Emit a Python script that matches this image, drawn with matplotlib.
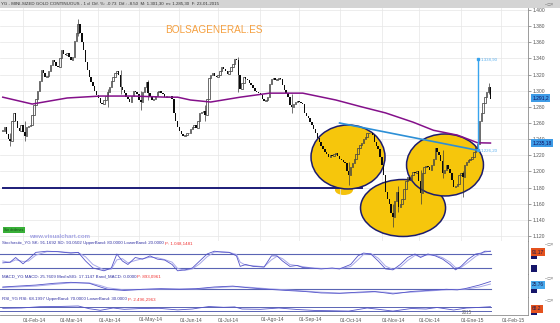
import numpy as np
import pandas as pd
import matplotlib
matplotlib.use("Agg")
import matplotlib.pyplot as plt
import matplotlib.transforms as mtransforms
from matplotlib.patches import Ellipse, Rectangle

plt.rcParams['font.family'] = ['Liberation Sans', 'DejaVu Sans']

# --- data --------------------------------------------------------------
start_day = "2014-01-17"
closes = [
    1250, 1255, 1246, 1240, 1238, 1262, 1272, 1262, 1254, 1250,
    1258, 1249, 1244, 1255, 1256, 1258, 1270, 1282, 1290, 1300,
    1312, 1326, 1322, 1317, 1318, 1324, 1332, 1338, 1336, 1331,
    1329, 1340, 1350, 1346, 1344, 1347, 1342, 1338, 1342, 1362,
    1372, 1383, 1371, 1360, 1350, 1335, 1326, 1317, 1311, 1306,
    1300, 1295, 1291, 1285, 1284, 1289, 1293, 1299, 1305, 1312,
    1317, 1322, 1325, 1320, 1305, 1301, 1297, 1292, 1290, 1286,
    1294, 1300, 1298, 1296, 1288, 1286, 1298, 1304, 1311, 1297,
    1292, 1288, 1290, 1293, 1299, 1300, 1297, 1296, 1292, 1293,
    1294, 1293, 1290, 1272, 1262, 1255, 1250, 1246, 1244, 1245,
    1247, 1248, 1252, 1255, 1258, 1254, 1262, 1272, 1274, 1275,
    1270, 1290, 1316, 1320, 1322, 1318, 1317, 1320, 1324, 1329,
    1327, 1325, 1321, 1324, 1329, 1333, 1339, 1338, 1320, 1302,
    1310, 1317, 1315, 1313, 1310, 1307, 1303, 1300, 1298, 1297,
    1295, 1290, 1287, 1289, 1292, 1308, 1314, 1316, 1313, 1314,
    1316, 1315, 1307, 1301, 1297, 1292, 1282, 1280, 1284, 1286,
    1287, 1286, 1285, 1283, 1273, 1269, 1266, 1261, 1257, 1253,
    1248, 1241, 1236, 1232, 1228, 1224, 1221, 1218, 1220, 1219,
    1222, 1223, 1219, 1216, 1214, 1212, 1210, 1200, 1196, 1205,
    1210, 1216, 1222, 1229, 1233, 1235, 1240, 1243, 1247, 1248,
    1247, 1245, 1237, 1232, 1228, 1218, 1208, 1196, 1175, 1166,
    1160, 1148, 1143, 1163, 1175, 1156, 1160, 1166, 1178, 1188,
    1193, 1190, 1195, 1199, 1198, 1200, 1188, 1173, 1198, 1206,
    1207, 1205, 1202, 1208, 1215, 1229, 1224, 1220, 1213, 1198,
    1202, 1208, 1203, 1198, 1190, 1181, 1182, 1184, 1195, 1198,
    1193, 1208, 1212, 1214, 1216, 1218, 1224, 1230, 1234, 1262,
    1272, 1285, 1292, 1298, 1305, 1290,
]

# the longer wicks that stand out (bar index, low, high)
wick_bars = [4, 12, 41, 57, 64, 75, 79, 110, 128, 157, 188, 212, 215, 227, 239, 250, 264]
wick_lows = [1232, 1238, 1368, 1280, 1296, 1276, 1288, 1262, 1298, 1272, 1183, 1131, 1150, 1160, 1192, 1168, 1296]
wick_highs = [1248, 1262, 1389, 1302, 1326, 1300, 1313, 1282, 1342, 1296, 1212, 1160, 1182, 1202, 1226, 1200, 1309]

# purple moving average (bar index, value)
ma_bars = [0, 16, 35, 53, 71, 89, 95, 102, 113, 129, 145, 156, 163, 181, 195,
           208, 223, 234, 247, 254, 258, 265]
ma_vals = [1292, 1283.5, 1291, 1293.4, 1293.4, 1292, 1292, 1288.5, 1286, 1292,
           1297, 1297, 1297, 1288.5, 1280, 1272.5, 1261, 1251, 1245, 1239,
           1235.5, 1235.18]

support_level = 1179.4
support_bars = [0, 195]
trend_bars = [183, 258]
trend_vals = [1260.0, 1226.2]
target_bar = 258
target_vals = [1226.2, 1338.9]
last_price = 1291.2

# yellow zones: centre bar, centre price, width (bars), height (price)
zones = [(187.6, 1217.9, 40.2, 79.3),
         (217.5, 1154.7, 46.2, 70.6),
         (240.3, 1208.0, 41.8, 76.8)]
zone_tail = (185.4, 1177.0, 9.8, 12.4)

stoch_bars = [0, 4, 7, 11, 14, 18, 24, 30, 37, 41, 45, 49, 55, 59, 62, 65, 68, 72,
              76, 80, 84, 88, 92, 95, 99, 103, 107, 111, 115, 119, 123, 127, 129,
              132, 136, 142, 146, 149, 152, 156, 160, 163, 167, 173, 179, 183, 189,
              193, 196, 200, 204, 208, 212, 216, 220, 224, 227, 231, 235, 239, 243,
              246, 249, 253, 257, 260, 262, 265]
stoch_k = [42, 45, 65, 38, 58, 87, 92, 90, 84, 87, 50, 20, 8, 20, 80, 50, 35, 65,
           58, 72, 58, 54, 35, 8, 12, 20, 50, 80, 92, 88, 87, 72, 27,
           35, 27, 24, 72, 72, 50, 27, 31, 22, 20, 16, 20, 16, 35,
           72, 84, 80, 50, 16, 12, 35, 65, 80, 65, 80, 72, 58, 35,
           12, 27, 58, 80, 84, 92, 91]
stoch_d = [50, 44, 55, 48, 50, 75, 90, 90, 86, 86, 68, 35, 12, 15, 55, 60, 42, 52,
           60, 66, 64, 56, 45, 18, 10, 16, 38, 68, 88, 90, 87, 78, 45,
           32, 30, 25, 55, 70, 60, 35, 30, 26, 21, 18, 18, 17, 26,
           55, 78, 82, 62, 28, 14, 24, 52, 74, 70, 76, 75, 64, 45,
           22, 22, 45, 70, 82, 88, 93]

macd_bars = [0, 18, 28, 37, 47, 53, 57, 66, 76, 86, 96, 105, 115, 125, 134, 144,
             154, 164, 173, 183, 193, 202, 208, 212, 222, 231, 241, 247, 251, 259, 265]
macd_line = [7, 13.6, 19.7, 23, 19.7, 7, -1, -5, -1, 1, -1, 1, 7, 10, 4, -1,
             -5, -8.6, -13.6, -15, -11, -8.6, -13.6, -17, -8.6, -5, -1, -3, 1, 13.6, 25.76]
macd_signal = [5, 10, 16, 21, 21, 12, 4, -3, -2, 0, 0, 0, 4, 8, 6, 1,
               -3, -7, -11, -14, -13, -10, -11, -14, -11, -7, -3, -2, -1, 7, 17.11]

rsi_bars = [0, 10, 20, 30, 41, 47, 53, 60, 66, 75, 85, 95, 103, 112, 120, 126, 130,
            140, 150, 160, 170, 178, 188, 198, 205, 212, 222, 230, 236, 245, 252, 258, 265]
rsi_vals = [52, 55, 68, 70, 75, 48, 32, 55, 42, 50, 52, 36, 45, 70, 62, 66, 45,
            42, 55, 40, 30, 28, 24, 55, 40, 24, 50, 45, 60, 35, 55, 60, 68]

month_starts = ["2014-02-03", "2014-03-03", "2014-04-01", "2014-05-01", "2014-06-02",
                "2014-07-01", "2014-08-01", "2014-09-01", "2014-10-01", "2014-11-03",
                "2014-12-01", "2015-01-01", "2015-02-02"]
month_labels = ["01-Feb-14", "01-Mar-14", "01-Abr-14", "01-May-14", "01-Jun-14",
                "01-Jul-14", "01-Ago-14", "01-Sep-14", "01-Oct-14", "01-Nov-14",
                "01-Dic-14", "01-Ene-15", "01-Feb-15"]
price_ticks = list(range(1120, 1401, 20))


def es_num(v, dec):
    s = f"{v:,.{dec}f}"
    return s.replace(",", "#").replace(".", ",").replace("#", ".")


# --- figure ---------------------------------------------------------------
W, H = 560, 323
fig = plt.figure(figsize=(W / 100, H / 100), dpi=100)
fig.patch.set_facecolor('white')


def panel(top, bottom):
    return fig.add_axes([0, 1 - bottom / H, 528 / W, (bottom - top) / H])


month_pos = np.busday_count(start_day, month_starts)
x = np.arange(len(closes))
xlim = (-1.5, 285.4)

ax = panel(8, 241)
ax_st = panel(241, 274)
ax_md = panel(274, 297)
ax_rs = panel(297, 315)

for a in (ax, ax_st, ax_md, ax_rs):
    a.set_xlim(*xlim)
    a.set_facecolor('white')
    for s in ('top', 'left'):
        a.spines[s].set_visible(False)
    for s in ('bottom', 'right'):
        a.spines[s].set_color('#8c8c8c')
        a.spines[s].set_linewidth(0.6)
    a.tick_params(axis='x', bottom=False, labelbottom=False)
    a.tick_params(axis='y', left=False, labelleft=False)

# main price panel
ax.set_ylim(1113.8, 1402.5)
ax.set_xticks(month_pos)
ax.set_yticks(price_ticks)
ax.grid(True, color='#e6e6e6', linewidth=0.5, zorder=0)
ax.yaxis.tick_right()
ax.set_yticklabels([es_num(v, 0) for v in price_ticks])
ax.tick_params(axis='y', right=True, labelright=True, labelsize=3.6,
               colors='#555555', length=2, width=0.4, pad=1.5)

ax.plot(support_bars, [support_level] * 2, color='#1c1c78', lw=1.4, zorder=2)
ax.add_patch(Ellipse(zone_tail[:2], zone_tail[2], zone_tail[3],
                     facecolor='#f4c20d', edgecolor='none', zorder=1.5))
for cx, cy, w, h in zones:
    ax.add_patch(Ellipse((cx, cy), w, h, facecolor='#f6c60c',
                         edgecolor='#1c1c6e', lw=1.1, zorder=2.5))

c = np.array(closes, float)
o = np.r_[c[0], c[:-1]]
up = c >= o
lo = np.minimum(o, c)
hgt = np.maximum(np.abs(c - o), 0.8)
ax.vlines(wick_bars, wick_lows, wick_highs, color='#3a3a3a', lw=0.5, zorder=3.5)
ax.bar(x[up], hgt[up], bottom=lo[up], width=0.78, facecolor='none',
       edgecolor='#444444', linewidth=0.55, zorder=4)
ax.bar(x[~up], hgt[~up], bottom=lo[~up], width=0.78, color='#0c0c0c',
       linewidth=0, zorder=4)

ax.plot(ma_bars, ma_vals, color='#84108a', lw=1.1, zorder=5)
ax.plot(trend_bars, trend_vals, color='#2c8fd6', lw=1.2, zorder=6)
ax.plot([target_bar] * 2, target_vals, color='#38a4ee', lw=1.0, zorder=6)
ax.plot([target_bar] * 2, target_vals, 's', color='#38a4ee', ms=1.6, zorder=6)
for v in target_vals:
    ax.text(target_bar + 1.5, v, es_num(v, 2), fontsize=3.2, color='#5ab0ee',
            va='center', zorder=7)

ytrans = mtransforms.blended_transform_factory(ax.transAxes, ax.transData)
for val, txt in ((last_price, es_num(last_price, 1)), (ma_vals[-1], es_num(ma_vals[-1], 2))):
    ax.text(1.008, val, txt, transform=ytrans, fontsize=3.6, color='#101060',
            va='center', ha='left', zorder=8,
            bbox=dict(boxstyle='square,pad=0.25', fc='#3d9be6', ec='none'))

ax.text(165 / 528, 1 - (30 - 8) / 233, "BOLSAGENERAL.ES", transform=ax.transAxes,
        fontsize=7.2, color='#f5a040', va='center', ha='left')
ax.text(29 / 528, 1 - (236 - 8) / 233, "www.visualchart.com", transform=ax.transAxes,
        fontsize=4.3, color='#a4a4e4', fontweight='bold', va='center', ha='left')
ax.text(4 / 528, 1 - (230 - 8) / 233, "Sin órdenes", transform=ax.transAxes,
        fontsize=2.6, color='#1a4a1a', va='center', ha='left',
        bbox=dict(boxstyle='square,pad=0.35', fc='#38b038', ec='none'))

# stochastic
ax_st.set_ylim(-5.7, 135.7)
ax_st.plot([xlim[0], x[-1] + 0.5], [80, 80], color='#5a64b4', lw=0.8)
ax_st.plot([xlim[0], x[-1] + 0.5], [20, 20], color='#5a64b4', lw=0.8)
ax_st.plot(stoch_bars, stoch_d, color='#a8a8ea', lw=0.7)
ax_st.plot(stoch_bars, stoch_k, color='#5454c8', lw=0.6)

# macd
ax_md.set_ylim(-27.6, 51.7)
ax_md.plot([xlim[0], x[-1] + 0.5], [0, 0], color='#5a64b4', lw=0.8)
ax_md.plot(macd_bars, macd_signal, color='#a8a8ea', lw=0.7)
ax_md.plot(macd_bars, macd_line, color='#5454c8', lw=0.6)

# rsi
ax_rs.set_ylim(-15, 165)
ax_rs.plot([xlim[0], x[-1] + 0.5], [70, 70], color='#5a64b4', lw=0.7)
ax_rs.plot([xlim[0], x[-1] + 0.5], [30, 30], color='#5a64b4', lw=0.7)
ax_rs.plot(rsi_bars, rsi_vals, color='#5454c8', lw=0.6)
year_pos = month_pos[month_labels.index("01-Ene-15")]
ax_rs.text(year_pos + 0.5, -12, "2015", fontsize=3.3, color='#666666', va='bottom')
ax_rs.set_xticks(month_pos)
ax_rs.set_xticklabels(month_labels)
ax_rs.tick_params(axis='x', labelbottom=True, labelsize=3.6, colors='#555555',
                  length=0, pad=1.8)
for lab in ax_rs.get_xticklabels():
    lab.set_ha('left')

# panel headers
headers = [
    (ax_st, "Stochastic_YG SK: 91.1692 SD: 93.0502 UpperBand: 80.0000 LowerBand: 20.0000 ",
     "P: 1.048,1481"),
    (ax_md, "MACD_YG MACD: 25.7609 MediaSIG: 17.1147 Band_MACD: 0.0000 ", "P: 893,0961"),
    (ax_rs, "RSI_YG RSI: 68.1997 UpperBand: 70.0000 LowerBand: 30.0000 ", "P: 2.496,2963"),
]
for a, txt, red in headers:
    t = a.text(0.003, 0.985, txt, transform=a.transAxes, fontsize=3.2,
               color='#3434a4', va='top', ha='left')
    a.annotate(red, xy=(1, 0), xycoords=t, fontsize=3.2, color='#f03030',
               va='bottom', ha='left')

# title strip
fig.add_artist(Rectangle((0, 1 - 8 / H), 1, 8 / H, transform=fig.transFigure,
                         facecolor='#d4d4d4', edgecolor='none'))
t = fig.text(1 / W, 1 - 4 / H,
             "YG - MINI-SIZED GOLD CONTINUOUS - 1 d  Dif. %: -0.73  Dif.: -8.50  "
             "M: 1.301,30  m: 1.285,30  F: 23-01-2015 ",
             fontsize=3.2, color='#333333', va='center', ha='left')
ax.annotate("P: 1.290,50", xy=(1, 0), xycoords=t, fontsize=3.2, color='#f03030',
            va='bottom', ha='left', annotation_clip=False)


# right-hand value boxes and window icons
def fx(px):
    return px / W


def fy(py):
    return 1 - py / H


for py in (4, 245, 278, 300):
    fig.text(fx(545), fy(py), "–□×", fontsize=3.4, color='#707070', va='center')

value_boxes = [("91.17", 252, '#e4521e'), ("25.76", 285, '#46a8ec'), ("68.2", 309, '#e4521e')]
for txt, py, col in value_boxes:
    fig.text(fx(532), fy(py), txt, fontsize=3.4, color='#1a1a50', va='center',
             bbox=dict(boxstyle='square,pad=0.25', fc=col, ec='none'))
for top, bottom in ((255.5, 258.5), (264.5, 271.5), (288.5, 293), (312, 315)):
    fig.add_artist(Rectangle((fx(531), fy(bottom)), 6 / W, (bottom - top) / H,
                             transform=fig.transFigure, facecolor='#16166a',
                             edgecolor='none'))

fig.savefig("out.png", dpi=100)
